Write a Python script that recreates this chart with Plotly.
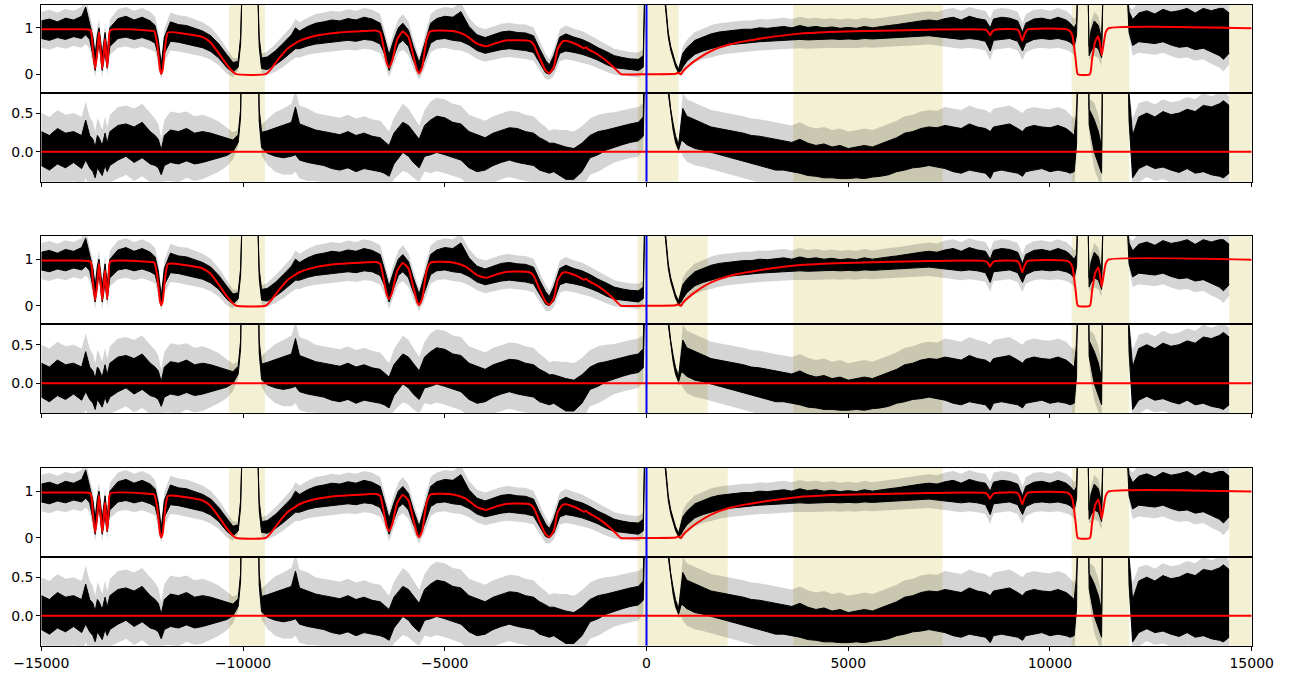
import plotly.graph_objects as go

# ---------------- data ----------------
V_DATA = [
    -15000, -14800, -14600, -14400, -14200, -14000, -13900, -13800, -13720, -13665,
    -13610, -13570, -13490, -13420, -13366, -13300, -13100, -12900, -12700, -12500,
    -12300, -12180, -12100, -12027, -11950, -11800, -11600, -11400, -11200, -11000,
    -10800, -10600, -10400, -10250, -10120, -10060, -10020, -9800, -9640, -9600,
    -9540, -9400, -9200, -9000, -8800, -8700, -8600, -8400, -8200, -8000,
    -7800, -7600, -7400, -7200, -7000, -6800, -6600, -6500, -6380, -6260,
    -6150, -6040, -5900, -5780, -5635, -5500, -5350, -5200, -5000, -4800,
    -4600, -4400, -4200, -4000, -3800, -3600, -3400, -3200, -3000, -2800,
    -2650, -2500, -2408, -2300, -2150, -2000, -1800, -1600, -1400, -1200,
    -1000, -800, -600, -400, -200, -80, -40, 0, 200, 400,
    470, 540, 600, 660, 720, 795, 860, 900, 1000, 1200,
    1400, 1600, 1800, 2000, 2200, 2400, 2600, 2800, 3000, 3200,
    3400, 3600, 3800, 4000, 4200, 4400, 4600, 4800, 5000, 5200,
    5400, 5600, 5800, 6000, 6200, 6400, 6600, 6800, 7000, 7200,
    7400, 7600, 7800, 8000, 8200, 8400, 8520, 8600, 8800, 9000,
    9200, 9320, 9400, 9600, 9800, 10000, 10200, 10400, 10500, 10600,
    10660, 10690, 10800, 10940, 10970, 11020, 11100, 11200, 11280, 11320,
    11500, 11700, 11900, 11960, 12050, 12200, 12400, 12600, 12800, 13000,
    13200, 13400, 13600, 13800, 14000, 14200, 14300, 14440,
]

# normalised flux: lower / upper edge of the dense black spectrum
FLUX_LO = [
    .77, .73, .79, .75, .81, .77, .85, .75, .40, .08,
    .45, .70, .08, .50, .13, .60, .77, .80, .75, .79,
    .73, .67, .40, .00, .45, .71, .69, .65, .61, .57,
    .49, .35, .14, .04, .15, .65, 2, 2, 2, .60,
    .12, .10, .20, .33, .47, .55, .55, .61, .65, .67,
    .69, .71, .73, .71, .75, .73, .65, .45, .08, .40,
    .65, .73, .60, .30, .00, .30, .67, .75, .77, .73,
    .71, .63, .51, .45, .49, .53, .55, .53, .51, .47,
    .25, .03, .00, .10, .45, .50, .47, .43, .37, .30,
    .21, .14, .12, .10, .08, .15, 2, 2, 2, 2,
    1.44, .80, .52, .32, .16, .03, .08, .15, .28, .43,
    .50, .55, .60, .63, .65, .67, .68, .70, .71, .72,
    .73, .73, .75, .74, .75, .75, .76, .75, .76, .75,
    .77, .76, .77, .78, .79, .80, .81, .83, .83, .81,
    .79, .77, .75, .77, .75, .71, .50, .73, .75, .77,
    .71, .50, .67, .75, .77, .75, .77, .73, .69, .60,
    .85, 2, 2, 2, .40, .50, .60, .55, .35, 2,
    2, 2, 2, .90, .62, .70, .68, .66, .70, .63,
    .58, .60, .53, .56, .48, .40, .32, .45,
]
FLUX_HI = [
    1.15, 1.19, 1.13, 1.21, 1.17, 1.25, 1.45, 1.10, .80, .42,
    .85, 1.00, .42, .90, .47, 1.00, 1.20, 1.25, 1.17, 1.23,
    1.15, 1.05, .75, .20, .80, 1.13, 1.07, 1.05, .99, .93,
    .83, .65, .42, .25, .28, .80, 2, 2, 2, .80,
    .35, .37, .50, .67, .85, 1.00, .93, 1.03, 1.10, 1.13,
    1.17, 1.15, 1.20, 1.17, 1.23, 1.19, 1.10, .80, .42, .75,
    1.00, 1.10, .95, .60, .25, .65, 1.10, 1.20, 1.25, 1.23,
    1.35, 1.03, .85, .79, .85, .91, .93, .90, .89, .83,
    .55, .30, .20, .40, .80, .87, .80, .75, .67, .57,
    .49, .40, .36, .33, .32, .40, 2, 2, 2, 2,
    1.56, .90, .60, .40, .24, .10, .30, .45, .57, .73,
    .80, .87, .91, .93, .95, .97, .97, 1.00, .99, 1.01,
    1.03, 1.00, 1.05, 1.01, 1.03, 1.00, 1.02, .99, 1.01, .99,
    1.03, 1.00, 1.03, 1.05, 1.07, 1.10, 1.13, 1.15, 1.17, 1.15,
    1.20, 1.23, 1.17, 1.25, 1.20, 1.17, 1.00, 1.19, 1.23, 1.21,
    1.15, .90, 1.10, 1.19, 1.21, 1.17, 1.23, 1.17, 1.10, 1.00,
    1.10, 2, 2, 2, .60, .95, 1.15, 1.05, .75, 2,
    2, 2, 2, 1.35, 1.18, 1.32, 1.37, 1.30, 1.40, 1.34,
    1.37, 1.42, 1.32, 1.42, 1.37, 1.42, 1.42, 1.32,
]
# flux uncertainty (grey band around the spectrum)
ERR_FLUX = [
    .20, .20, .20, .20, .20, .20, .20, .20, .18, .15,
    .18, .18, .15, .18, .15, .18, .20, .20, .20, .20,
    .20, .19, .18, .12, .18, .20, .20, .20, .19, .19,
    .18, .16, .13, .10, .07, .06, .10, .10, .10, .06,
    .09, .12, .15, .17, .18, .19, .19, .19, .20, .20,
    .20, .20, .20, .20, .20, .20, .20, .18, .15, .18,
    .19, .20, .19, .17, .12, .17, .20, .20, .20, .20,
    .20, .19, .18, .18, .18, .18, .18, .18, .18, .18,
    .17, .14, .12, .14, .17, .18, .18, .18, .17, .17,
    .16, .15, .15, .15, .15, .14, .10, .10, .10, .10,
    .04, .04, .04, .04, .04, .05, .12, .15, .17, .18,
    .18, .19, .19, .19, .19, .19, .19, .19, .19, .19,
    .19, .19, .19, .19, .19, .19, .19, .19, .19, .19,
    .19, .19, .19, .19, .19, .19, .19, .19, .19, .19,
    .20, .20, .20, .20, .20, .20, .20, .20, .20, .20,
    .20, .20, .20, .20, .20, .20, .20, .20, .20, .19,
    .14, .10, .10, .10, .08, .18, .20, .20, .18, .10,
    .10, .10, .10, .10, .22, .24, .24, .24, .24, .24,
    .24, .24, .24, .24, .26, .26, .26, .24,
]

# residuals: lower / upper edge of the dense black residual
RES_LO = [
    -.18, -.24, -.16, -.21, -.14, -.22, -.11, -.21, -.26, -.34,
    -.21, -.24, -.31, -.18, -.26, -.18, -.11, -.06, -.14, -.08,
    -.16, -.18, -.21, -.30, -.18, -.14, -.16, -.12, -.16, -.14,
    -.11, -.08, -.05, .00, .12, .45, 2, 2, 2, .40,
    .05, -.02, -.06, -.08, -.06, -.04, -.11, -.14, -.16, -.18,
    -.22, -.24, -.21, -.26, -.22, -.24, -.26, -.28, -.32, -.16,
    -.08, -.01, -.06, -.14, -.21, -.06, -.04, -.01, -.04, -.08,
    -.11, -.21, -.26, -.24, -.18, -.14, -.11, -.14, -.16, -.18,
    -.24, -.26, -.28, -.26, -.31, -.36, -.36, -.26, -.08, -.04,
    .02, .06, .09, .12, .14, .20, 2, 2, 2, 2,
    2, .76, .48, .28, .12, .02, .14, .14, .09, .04,
    .02, -.01, -.04, -.06, -.10, -.12, -.16, -.18, -.21, -.24,
    -.24, -.26, -.28, -.31, -.32, -.34, -.34, -.35, -.35, -.34,
    -.35, -.33, -.32, -.30, -.26, -.24, -.21, -.20, -.18, -.20,
    -.22, -.26, -.28, -.24, -.26, -.28, -.35, -.26, -.24, -.26,
    -.28, -.32, -.26, -.24, -.22, -.26, -.24, -.26, -.28, -.26,
    .10, 2, 2, 2, .35, .20, -.01, -.16, -.28, 2,
    2, 2, 2, .40, -.34, -.22, -.17, -.22, -.20, -.24,
    -.27, -.22, -.28, -.26, -.30, -.32, -.34, -.28,
]
RES_HI = [
    .26, .21, .30, .24, .26, .21, .41, .21, .16, .06,
    .21, .18, .08, .24, .11, .26, .34, .36, .32, .38,
    .26, .21, .16, .02, .21, .28, .26, .30, .24, .26,
    .24, .21, .17, .15, .22, .55, 2, 2, 2, .55,
    .25, .27, .31, .34, .38, .58, .36, .32, .28, .26,
    .24, .22, .26, .21, .24, .20, .18, .14, .08, .24,
    .31, .38, .34, .26, .16, .34, .41, .46, .44, .38,
    .36, .26, .22, .18, .24, .28, .31, .30, .26, .24,
    .18, .14, .11, .11, .08, .06, .04, .11, .21, .26,
    .28, .31, .34, .36, .38, .45, 2, 2, 2, 2,
    2, .84, .55, .36, .20, .09, .36, .56, .46, .41,
    .36, .32, .30, .28, .26, .24, .21, .20, .18, .16,
    .14, .12, .16, .11, .08, .10, .06, .08, .04, .06,
    .08, .06, .10, .14, .18, .24, .26, .30, .32, .31,
    .34, .32, .30, .36, .32, .30, .26, .32, .34, .36,
    .30, .26, .31, .34, .32, .31, .34, .30, .26, .21,
    .50, 2, 2, 2, .55, .50, .41, .26, .06, 2,
    2, 2, 2, .75, .21, .45, .50, .45, .52, .48,
    .50, .55, .52, .60, .58, .62, .66, .60,
]
ERR_RES = [
    .24, .24, .24, .24, .24, .24, .24, .24, .22, .20,
    .22, .22, .20, .22, .20, .22, .24, .24, .24, .24,
    .24, .22, .20, .16, .20, .24, .24, .22, .22, .22,
    .20, .18, .14, .10, .06, .05, .10, .10, .10, .05,
    .10, .15, .20, .22, .24, .22, .24, .24, .22, .22,
    .22, .22, .22, .22, .22, .22, .22, .20, .18, .20,
    .22, .24, .22, .20, .18, .20, .24, .24, .24, .24,
    .24, .22, .22, .22, .22, .22, .22, .22, .22, .22,
    .20, .18, .16, .18, .20, .22, .22, .22, .22, .22,
    .22, .20, .20, .20, .20, .18, .10, .10, .10, .10,
    .05, .04, .04, .04, .04, .05, .15, .20, .22, .22,
    .22, .22, .22, .22, .22, .22, .22, .22, .22, .22,
    .22, .22, .22, .22, .22, .22, .22, .22, .22, .22,
    .22, .22, .22, .22, .22, .22, .22, .22, .22, .22,
    .24, .24, .24, .24, .24, .24, .24, .24, .24, .24,
    .24, .24, .24, .24, .24, .24, .24, .24, .22, .22,
    .16, .10, .10, .10, .08, .18, .22, .22, .20, .10,
    .10, .10, .10, .08, .22, .18, .16, .16, .16, .16,
    .16, .16, .16, .16, .14, .14, .12, .12,
]

# best-fit model (red)
V_MODEL = [
    -15000, -14000, -13780, -13720, -13665, -13610, -13570, -13530, -13490, -13450,
    -13420, -13395, -13366, -13330, -13290, -12300, -12200, -12120, -12060, -12027,
    -11990, -11930, -11860, -11500, -11000, -10800, -10600, -10400, -10250, -10170,
    -9440, -9300, -9100, -8900, -8600, -8200, -7600, -7000, -6700, -6600,
    -6520, -6440, -6380, -6300, -6180, -6040, -5900, -5780, -5680, -5635,
    -5560, -5450, -5350, -4800, -4500, -4200, -3976, -3700, -3439, -2900,
    -2800, -2650, -2500, -2408, -2300, -2200, -2080, -2000, -1700, -1550,
    -1500, -1450, -1200, -900, -700, -632, 0, 730, 772, 810,
    855, 900, 1000, 1267, 1600, 2092, 2500, 2910, 3745, 4500,
    5810, 7000, 8400, 8460, 8513, 8570, 8640, 9200, 9260, 9314,
    9370, 9440, 10450, 10550, 10640, 10690, 10990, 11040, 11120, 11198,
    11250, 11281, 11320, 11380, 11445, 15000,
]
MODEL = [
    0.97, 0.97, 0.95, 0.50, 0.12, 0.50, 0.91, 0.50, 0.12, 0.45,
    0.76, 0.45, 0.15, 0.60, 0.95, 0.94, 0.93, 0.60, 0.10, 0.01,
    0.10, 0.60, 0.90, 0.88, 0.80, 0.68, 0.45, 0.20, 0.05, 0.00,
    0.00, 0.12, 0.35, 0.55, 0.72, 0.83, 0.90, 0.93, 0.94, 0.90,
    0.60, 0.25, 0.15, 0.30, 0.75, 0.92, 0.80, 0.40, 0.07, 0.02,
    0.15, 0.75, 0.93, 0.93, 0.85, 0.66, 0.60, 0.68, 0.73, 0.72,
    0.65, 0.35, 0.08, 0.02, 0.15, 0.55, 0.71, 0.72, 0.63, 0.56,
    0.58, 0.54, 0.42, 0.22, 0.05, 0.00, 0.00, 0.01, 0.03, 0.02,
    0.00, 0.06, 0.15, 0.33, 0.50, 0.65, 0.72, 0.78, 0.87, 0.91,
    0.94, 0.96, 0.96, 0.92, 0.84, 0.92, 0.96, 0.96, 0.86, 0.72,
    0.86, 0.96, 0.96, 0.85, 0.30, 0.00, 0.00, 0.30, 0.70, 0.82,
    0.60, 0.41, 0.60, 0.90, 0.99, 0.99,
]
V_RES_MODEL = [-15000, 15000]
RES_MODEL = [0.0, 0.0]

# fit windows (shaded), one list per row of panels
MASKS_1 = [(-10350, -9455), (-223, 797), (3638, 7341), (10538, 11965), (14444, 15000)]
MASKS_2 = [(-10350, -9455), (-223, 1516), (3638, 7341), (10538, 11965), (14444, 15000)]
MASKS_3 = [(-10350, -9455), (-223, 2012), (3638, 7341), (10538, 11965), (14444, 15000)]
V_REF = 0

X_TICKS = [-15000, -10000, -5000, 0, 5000, 10000, 15000]
X_TICK_LABELS = ["\u221215000", "\u221210000", "\u22125000", "0", "5000", "10000", "15000"]
FLUX_TICKS = [0, 1]
FLUX_TICK_LABELS = ["0", "1"]
RES_TICKS = [0.0, 0.5]
RES_TICK_LABELS = ["0.0", "0.5"]

# ---------------- layout geometry ----------------
W, H = 1294, 682
X_DOMAIN = [41.3 / W, 1251.7 / W]
Y_DOMAINS = [
    [0.8641, 0.9931], [0.7336, 0.8641],
    [0.5245, 0.6540], [0.3940, 0.5245],
    [0.1837, 0.3142], [0.0532, 0.1837],
]
FLUX_RANGE = [-0.4, 1.5]
RES_RANGE = [-0.39, 0.765]

GREY = "rgba(0,0,0,0.17)"
SHADE = "#F3F0D4"
FONT = dict(family="DejaVu Sans", size=14, color="black")

fig = go.Figure()
shapes = []
masks_by_row = [MASKS_1, MASKS_2, MASKS_3]

for p in range(6):
    n = p + 1
    xs = "x" if n == 1 else f"x{n}"
    ys = "y" if n == 1 else f"y{n}"
    is_res = (p % 2 == 1)
    lo = RES_LO if is_res else FLUX_LO
    hi = RES_HI if is_res else FLUX_HI
    er = ERR_RES if is_res else ERR_FLUX
    glo = [a - e for a, e in zip(lo, er)]
    ghi = [a + e for a, e in zip(hi, er)]
    common = dict(xaxis=xs, yaxis=ys, mode="lines", hoverinfo="skip", showlegend=False)
    fig.add_trace(go.Scatter(x=V_DATA, y=glo, line=dict(width=0, color=GREY), **common))
    fig.add_trace(go.Scatter(x=V_DATA, y=ghi, line=dict(width=0, color=GREY),
                             fill="tonexty", fillcolor=GREY, **common))
    fig.add_trace(go.Scatter(x=V_DATA, y=lo, line=dict(width=1, color="black"), **common))
    fig.add_trace(go.Scatter(x=V_DATA, y=hi, line=dict(width=1, color="black"),
                             fill="tonexty", fillcolor="black", **common))
    if is_res:
        fig.add_trace(go.Scatter(x=V_RES_MODEL, y=RES_MODEL,
                                 line=dict(width=2, color="#FF0000"), **common))
    else:
        fig.add_trace(go.Scatter(x=V_MODEL, y=MODEL,
                                 line=dict(width=2, color="#FF0000", shape="spline", smoothing=0.5),
                                 **common))

    for (a, b) in masks_by_row[p // 2]:
        shapes.append(dict(type="rect", xref=xs, yref=f"{ys} domain", x0=a, x1=b, y0=0, y1=1,
                           fillcolor=SHADE, line=dict(width=0), layer="below"))
    shapes.append(dict(type="line", xref=xs, yref=f"{ys} domain", x0=V_REF, x1=V_REF, y0=0, y1=1,
                       line=dict(color="#0000FF", width=2), layer="above"))

    xa = dict(domain=X_DOMAIN, range=[-15000, 15000], anchor=ys, showgrid=False, zeroline=False,
              showline=True, mirror=True, linecolor="black", linewidth=1,
              tickfont=FONT, automargin=False)
    if is_res:
        xa.update(ticks="outside", ticklen=4, tickwidth=1, tickcolor="black",
                  tickvals=X_TICKS, ticktext=X_TICK_LABELS, showticklabels=(n == 6))
    else:
        xa.update(ticks="", showticklabels=False)
    ya = dict(domain=Y_DOMAINS[p], range=RES_RANGE if is_res else FLUX_RANGE, anchor=xs,
              showgrid=False, zeroline=False, showline=True, mirror=True, linecolor="black",
              linewidth=1, ticks="outside", ticklen=4, tickwidth=1, tickcolor="black",
              tickvals=RES_TICKS if is_res else FLUX_TICKS,
              ticktext=RES_TICK_LABELS if is_res else FLUX_TICK_LABELS, tickfont=FONT,
              automargin=False)
    fig.update_layout(**{("xaxis" if n == 1 else f"xaxis{n}"): xa,
                         ("yaxis" if n == 1 else f"yaxis{n}"): ya})

fig.update_layout(width=W, height=H, margin=dict(l=0, r=0, t=0, b=0, autoexpand=False),
                  paper_bgcolor="white", plot_bgcolor="white", shapes=shapes,
                  showlegend=False, font=FONT, hovermode=False)
fig.write_html("out.html", config={"displayModeBar": False, "staticPlot": True},
               post_script="document.body.style.margin='0';document.body.style.overflow='hidden';")
